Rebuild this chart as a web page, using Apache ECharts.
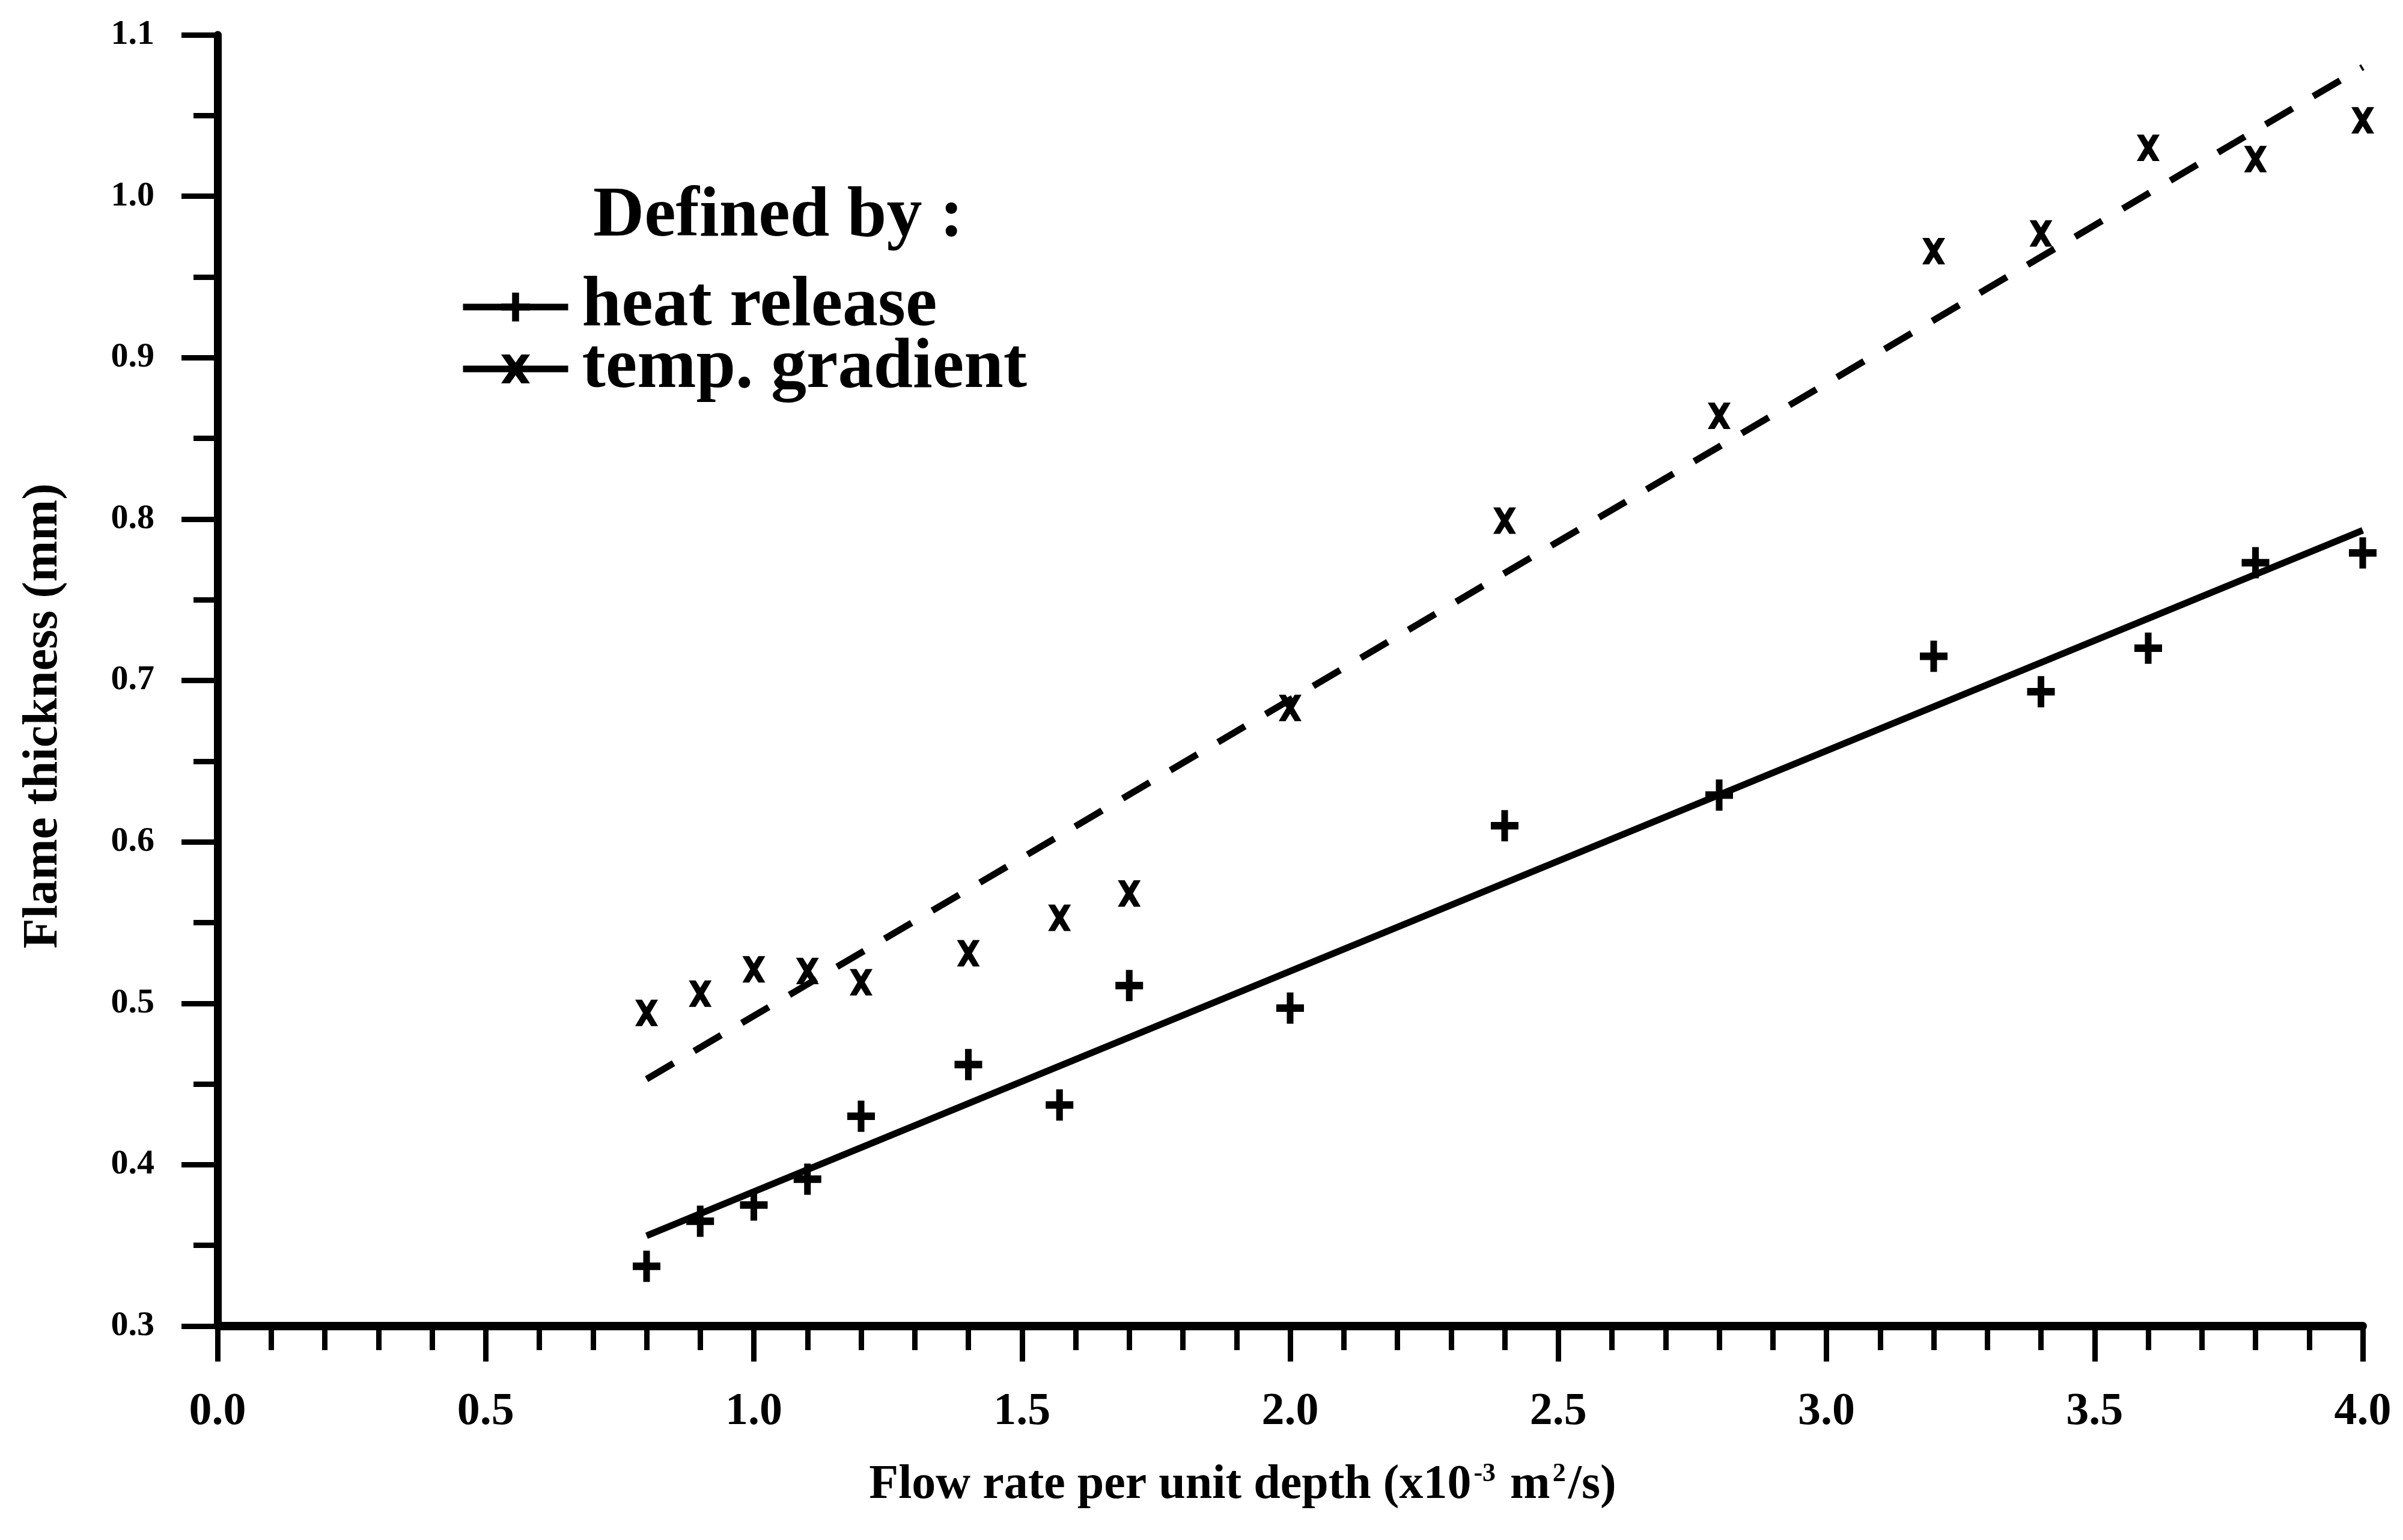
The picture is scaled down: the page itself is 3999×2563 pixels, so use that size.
<!DOCTYPE html>
<html>
<head>
<meta charset="utf-8">
<script src="https://cdn.jsdelivr.net/npm/echarts@6/dist/echarts.min.js"></script>
<style>
  html, body { margin: 0; padding: 0; background: #fff; }
  #chart { width: 3999px; height: 2563px; }
</style>
</head>
<body>
<div id="chart"></div>
<script>
// Flame thickness vs. flow rate per unit depth
const heatX = [0.8, 0.9, 1.0, 1.1, 1.2, 1.4, 1.57, 1.7, 2.0, 2.4, 2.8, 3.2, 3.4, 3.6, 3.8, 4.0];
const heatY = [0.337, 0.365, 0.375, 0.391, 0.430, 0.462, 0.437, 0.511, 0.497, 0.610, 0.629, 0.715, 0.693, 0.720, 0.773, 0.779];
const tempX = [0.8, 0.9, 1.0, 1.1, 1.2, 1.4, 1.57, 1.7, 2.0, 2.4, 2.8, 3.2, 3.4, 3.6, 3.8, 4.0];
const tempY = [0.494, 0.506, 0.521, 0.520, 0.513, 0.531, 0.553, 0.568, 0.683, 0.799, 0.864, 0.966, 0.977, 1.030, 1.023, 1.047];

// straight-line fits (end points)
const heatFitX = [0.8, 4.0];
const heatFitY = [0.356, 0.793];
const tempFitX = [0.8, 4.0];
const tempFitY = [0.453, 1.080];

const seriesNames = ['heat release', 'temp. gradient'];
const legendTitle = 'Defined by :';
const xTitle = 'Flow rate per unit depth (x10{sup|-3} m{sup|2}/s)';
const yTitle = 'Flame thickness (mm)';

const pairs = (xs, ys) => xs.map((x, i) => [x, ys[i]]);

const PLUS = 'path://M38,0 H62 V38 H100 V62 H62 V100 H38 V62 H0 V38 H38 Z';
const CROSS = 'path://M0,0 L30,0 L50,28 L70,0 L100,0 L66,50 L100,100 L70,100 L50,72 L30,100 L0,100 L34,50 Z';

const SERIF = '"Liberation Serif", "Times New Roman", serif';
const INK = '#000';

const chart = echarts.init(document.getElementById('chart'), null, { renderer: 'canvas' });

chart.setOption({
  backgroundColor: '#fff',
  animation: false,
  title: {
    text: legendTitle,
    left: 982,
    top: 292,
    textStyle: { fontFamily: SERIF, fontWeight: 'bold', fontSize: 118, color: INK, lineHeight: 130 }
  },
  legend: {
    data: seriesNames,
    orient: 'vertical',
    left: 760,
    top: 447,
    itemWidth: 175,
    itemHeight: 60,
    itemGap: -15,
    lineStyle: { width: 11, type: 'solid', color: INK },
    textStyle: { fontFamily: SERIF, fontWeight: 'bold', fontSize: 118, color: INK, lineHeight: 60, padding: [0, 0, 0, 18] }
  },
  grid: { left: 362, right: 67, top: 58, bottom: 356, containLabel: false },
  xAxis: {
    type: 'value',
    min: 0, max: 4, interval: 0.5,
    name: xTitle,
    nameLocation: 'middle',
    nameGap: 225,
    nameTextStyle: {
      fontFamily: SERIF, fontWeight: 'bold', fontSize: 80, color: INK,
      padding: [0, 158, 0, 0],
      rich: { sup: { fontFamily: SERIF, fontWeight: 'bold', fontSize: 44, color: INK, verticalAlign: 'top', padding: [0, 4, 28, 4] } }
    },
    axisLine: { show: true, onZero: false, lineStyle: { color: INK, width: 14 } },
    axisTick: { show: true, inside: false, length: 59, lineStyle: { color: INK, width: 9 } },
    minorTick: { show: true, splitNumber: 5, length: 40, lineStyle: { color: INK, width: 9 } },
    splitLine: { show: false },
    axisLabel: {
      margin: 105, fontFamily: SERIF, fontWeight: 'bold', fontSize: 76, color: INK,
      formatter: v => v.toFixed(1)
    }
  },
  yAxis: {
    type: 'value',
    min: 0.3, max: 1.1, interval: 0.1,
    name: yTitle,
    nameLocation: 'middle',
    nameRotate: 90,
    nameGap: 248,
    nameTextStyle: { fontFamily: SERIF, fontWeight: 'bold', fontSize: 82, color: INK, padding: [0, 118, 0, 0] },
    axisLine: { show: true, onZero: false, lineStyle: { color: INK, width: 13 } },
    axisTick: { show: true, inside: false, length: 60, lineStyle: { color: INK, width: 9 } },
    minorTick: { show: true, splitNumber: 2, length: 40, lineStyle: { color: INK, width: 9 } },
    splitLine: { show: false },
    axisLabel: {
      margin: 105, fontFamily: SERIF, fontWeight: 'bold', fontSize: 58, color: INK,
      formatter: v => v.toFixed(1)
    }
  },
  series: [
    {
      name: seriesNames[0],
      type: 'line',
      data: pairs(heatFitX, heatFitY),
      showSymbol: false,
      symbol: PLUS,
      itemStyle: { color: INK },
      lineStyle: { color: INK, width: 11, type: 'solid' },
      z: 2
    },
    {
      name: seriesNames[1],
      type: 'line',
      data: pairs(tempFitX, tempFitY),
      showSymbol: false,
      symbol: CROSS,
      itemStyle: { color: INK },
      lineStyle: { color: INK, width: 11, type: [52, 40] },
      z: 2
    },
    {
      name: 'heat release data',
      type: 'scatter',
      data: pairs(heatX, heatY),
      symbol: PLUS,
      symbolSize: [46, 52],
      itemStyle: { color: INK, opacity: 1 },
      z: 3
    },
    {
      name: 'temp. gradient data',
      type: 'scatter',
      data: pairs(tempX, tempY),
      symbol: CROSS,
      symbolSize: [38, 44],
      itemStyle: { color: INK, opacity: 1 },
      z: 3
    }
  ]
});
</script>
</body>
</html>
